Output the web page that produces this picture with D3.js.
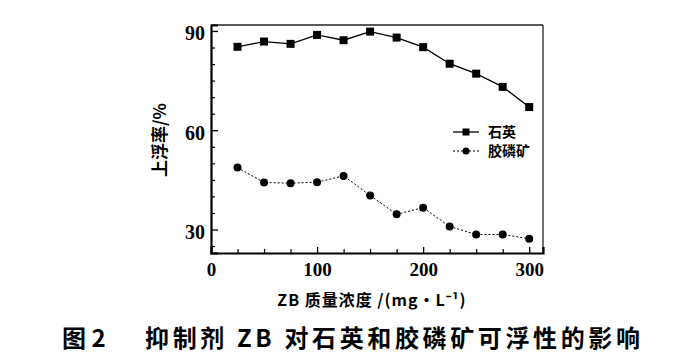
<!DOCTYPE html>
<html><head><meta charset="utf-8">
<script src="https://cdn.jsdelivr.net/npm/d3@7"></script>
<style>body{margin:0;background:#fff}svg{display:block}</style>
</head><body>
<svg id="c" width="685" height="361"></svg>
<script>
const concentrations = [25, 50, 75, 100, 125, 150, 175, 200, 225, 250, 275, 300];
const quartz = [85.2, 86.8, 86.1, 88.8, 87.2, 89.8, 88.0, 85.1, 80.1, 77.1, 73.1, 67.0];
const phosphate = [48.7, 44.2, 44.0, 44.3, 46.2, 40.3, 34.6, 36.6, 30.9, 28.5, 28.5, 27.2];
const xTicks = [0, 100, 200, 300];
const yTicks = [30, 60, 90];
const seriesNames = ["石英", "胶磷矿"];
const yLabel = "上浮率/%";
const xLabel = "ZB 质量浓度 /(mg·L⁻¹)";
const caption1 = "图 2";
const caption2 = "抑制剂 ZB 对石英和胶磷矿可浮性的影响";

const svg = d3.select("#c");
const L = 211, R = 543, T = 25, B = 253;
const x = d3.scaleLinear().domain([0, 313]).range([L, R]);
const y = d3.scaleLinear().domain([22.9, 91.8]).range([B, T]);
const serif = "'Liberation Serif','Times New Roman','DejaVu Serif',serif";
const cjk = "'Noto Sans CJK SC','Noto Sans CJK JP',sans-serif";

// frame top/right
svg.append("line").attr("x1", L).attr("x2", R).attr("y1", T).attr("y2", T).attr("stroke", "#222").attr("stroke-width", 1.3);
svg.append("line").attr("x1", R).attr("x2", R).attr("y1", T).attr("y2", B).attr("stroke", "#222").attr("stroke-width", 1.3);

// x axis
const xAxis = d3.axisBottom(x).tickValues(xTicks).tickSize(-6).tickPadding(10).tickFormat(d3.format("d"));
const gx = svg.append("g").attr("transform", `translate(0,${B})`).call(xAxis).attr("font-family", serif);
gx.select(".domain").attr("stroke-width", 2.2).attr("stroke", "#000");
gx.selectAll(".tick line").attr("stroke-width", 1.3);
gx.selectAll("text").style("font-family", serif).attr("font-size", 19).attr("font-weight", "bold").attr("fill", "#000");
const xMinor = d3.axisBottom(x).tickValues(d3.range(25, 301, 25).filter(v => v % 100)).tickSize(-4).tickFormat("");
const gxm = svg.append("g").attr("transform", `translate(0,${B})`).call(xMinor);
gxm.select(".domain").remove();
gxm.selectAll(".tick line").attr("stroke-width", 1.2);

// y axis
const yAxis = d3.axisLeft(y).tickValues(yTicks).tickSize(-7).tickPadding(6);
const gy = svg.append("g").attr("transform", `translate(${L},0)`).call(yAxis).attr("font-family", serif);
gy.select(".domain").attr("stroke-width", 2.2).attr("stroke", "#000");
gy.selectAll(".tick line").attr("stroke-width", 1.3);
gy.selectAll("text").style("font-family", serif).attr("font-size", 20).attr("font-weight", "bold").attr("fill", "#000").attr("dy", "0.45em");
const yMinor = d3.axisLeft(y).tickValues(d3.range(25, 91, 5).filter(v => v % 30)).tickSize(-4).tickFormat("");
const gym = svg.append("g").attr("transform", `translate(${L},0)`).call(yMinor);
gym.select(".domain").remove();
gym.selectAll(".tick line").attr("stroke-width", 1.2);

// lines
const line = d3.line().x((d, i) => x(concentrations[i])).y(d => y(d));
svg.append("path").datum(quartz).attr("d", line).attr("fill", "none").attr("stroke", "#000").attr("stroke-width", 1.3);
svg.append("path").datum(phosphate).attr("d", line).attr("fill", "none").attr("stroke", "#000").attr("stroke-width", 1).attr("stroke-dasharray", "2,2");
svg.selectAll(".sq").data(quartz).enter().append("rect")
  .attr("x", (d, i) => x(concentrations[i]) - 4).attr("y", d => y(d) - 4)
  .attr("width", 8).attr("height", 8).attr("fill", "#000");
svg.selectAll(".ci").data(phosphate).enter().append("circle")
  .attr("cx", (d, i) => x(concentrations[i])).attr("cy", d => y(d)).attr("r", 4).attr("fill", "#000");

// legend
const lg = svg.append("g");
const ly = [132, 151];
lg.append("line").attr("x1", 453).attr("x2", 479).attr("y1", ly[0]).attr("y2", ly[0]).attr("stroke", "#000").attr("stroke-width", 1.3);
lg.append("rect").attr("x", 466 - 3.5).attr("y", ly[0] - 3.5).attr("width", 7).attr("height", 7).attr("fill", "#000");
lg.append("line").attr("x1", 453).attr("x2", 479).attr("y1", ly[1]).attr("y2", ly[1]).attr("stroke", "#000").attr("stroke-width", 1).attr("stroke-dasharray", "2,2");
lg.append("circle").attr("cx", 466).attr("cy", ly[1]).attr("r", 3.5).attr("fill", "#000");
seriesNames.forEach((n, i) => {
  lg.append("text").attr("x", 488).attr("y", ly[i]).attr("dy", "0.36em")
    .attr("font-family", cjk).attr("font-size", 14).attr("font-weight", "bold").text(n);
});

// axis labels
svg.append("text").attr("transform", "translate(160,140) rotate(-90)").attr("text-anchor", "middle").attr("dy", "0.36em")
  .attr("font-family", cjk).attr("font-size", 17).attr("font-weight", "bold").text(yLabel);
svg.append("text").attr("x", 372).attr("y", 300).attr("text-anchor", "middle").attr("dy", "0.36em")
  .attr("font-family", cjk).attr("font-size", 16).attr("font-weight", "bold").attr("letter-spacing", 1).text(xLabel);

// caption
svg.append("text").attr("x", 62).attr("y", 338).attr("dy", "0.36em")
  .attr("font-family", cjk).attr("font-size", 24).attr("font-weight", "bold").text(caption1);
svg.append("text").attr("x", 145).attr("y", 338).attr("dy", "0.36em")
  .attr("font-family", cjk).attr("font-size", 24).attr("font-weight", "bold").attr("textLength", 495).text(caption2);
</script>
</body></html>
